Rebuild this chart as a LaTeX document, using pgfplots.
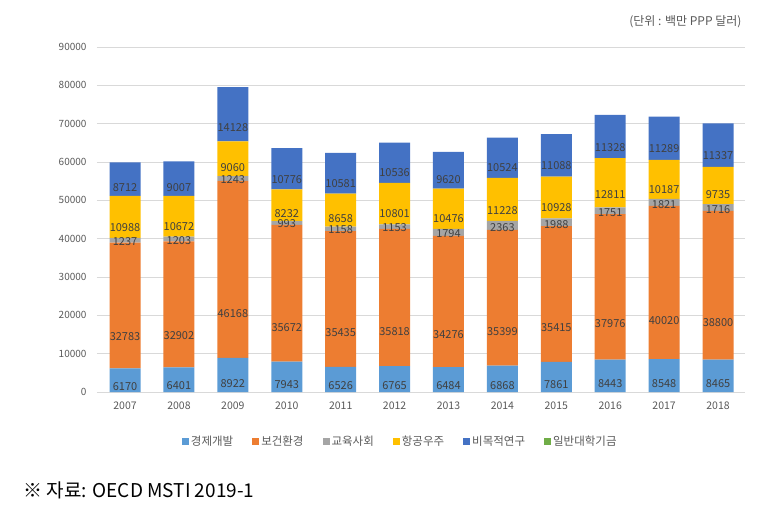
\documentclass[border=0pt]{standalone}
\usepackage{pgfplots}
\pgfplotsset{compat=1.18}
\usepackage{pgfplotstable}
\usepackage{fontspec}
\setmainfont{Noto Sans CJK KR}
\definecolor{cEcon}{HTML}{5B9BD5}
\definecolor{cHealth}{HTML}{ED7D31}
\definecolor{cEdu}{HTML}{A5A5A5}
\definecolor{cAero}{HTML}{FFC000}
\definecolor{cNon}{HTML}{4472C4}
\definecolor{cGen}{HTML}{70AD47}
\definecolor{txt}{HTML}{595959}
\definecolor{lbl}{HTML}{404040}
\definecolor{grd}{HTML}{D9D9D9}
\pgfplotstableread{
idx year econ health edu aero nonobj
0 2007 6170 32783 1237 10988 8712
1 2008 6401 32902 1203 10672 9007
2 2009 8922 46168 1243 9060 14128
3 2010 7943 35672 993 8232 10776
4 2011 6526 35435 1158 8658 10581
5 2012 6765 35818 1153 10801 10536
6 2013 6484 34276 1794 10476 9620
7 2014 6868 35399 2363 11228 10524
8 2015 7861 35415 1988 10928 11088
9 2016 8443 37976 1751 12811 11328
10 2017 8548 40020 1821 10187 11289
11 2018 8465 38800 1716 9735 11337
}\datatable
\begin{document}
\begin{tikzpicture}
\useasboundingbox (0,0) rectangle (764pt,-515pt);
\begin{axis}[
  at={(97pt,-392pt)}, anchor=south west,
  scale only axis, width=648pt, height=345pt,
  ybar stacked, bar width=31pt,
  xmin=-0.52, xmax=11.5, ymin=0, ymax=90000,
  ytick={0,10000,...,90000},
  xtick=data,
  xticklabels={2007,2008,2009,2010,2011,2012,2013,2014,2015,2016,2017,2018},
  axis line style={draw=none},
  ymajorgrids, grid style={grd, line width=0.8pt},
  major tick length=0pt,
  scaled y ticks=false,
  /pgf/number format/assume math mode=true,
  /pgf/number format/1000 sep={},
  yticklabel style={font=\fontsize{10}{12}\selectfont, text=txt, xshift=-7pt},
  xticklabel style={font=\fontsize{10.5}{12}\selectfont, text=txt, yshift=-6pt},
  point meta=explicit,
  visualization depends on=rawy \as \rawy,
  nodes near coords={\pgfmathprintnumber[fixed,precision=0,1000 sep={}]{\pgfplotspointmeta}},
  every node near coord/.append style={font=\fontsize{11}{12}\selectfont, text=lbl, anchor=center, inner sep=0pt, shift={(axis direction cs:0,-\rawy/4)}},
  legend columns=6,
  legend style={at={(0.468,-0.143)}, anchor=center, draw=none, fill=none,
    font=\fontsize{11.5}{13}\selectfont, text=txt,
    /tikz/every even column/.append style={column sep=17pt}},
  legend image code/.code={\fill[#1] (0pt,-3.5pt) rectangle (7pt,3.5pt);},
]
\addplot[fill=cEcon, draw=none] table[x=idx, y=econ, meta=econ] {\datatable};
\addlegendentry{경제개발}
\addplot[fill=cHealth, draw=none] table[x=idx, y=health, meta=health] {\datatable};
\addlegendentry{보건환경}
\addplot[fill=cEdu, draw=none] table[x=idx, y=edu, meta=edu] {\datatable};
\addlegendentry{교육사회}
\addplot[fill=cAero, draw=none] table[x=idx, y=aero, meta=aero] {\datatable};
\addlegendentry{항공우주}
\addplot[fill=cNon, draw=none] table[x=idx, y=nonobj, meta=nonobj] {\datatable};
\addlegendentry{비목적연구}
\addlegendimage{fill=cGen, draw=none}
\addlegendentry{일반대학기금}
\end{axis}
\node[anchor=east, text=txt, font=\fontsize{12}{14}\selectfont] at (745pt,-22pt) {(단위 : 백만 PPP 달러)};
\node[anchor=west, text=black, font=\fontsize{19}{22}\selectfont] at (20pt,-490pt) {※ 자료: OECD MSTI 2019-1};
\end{tikzpicture}
\end{document}
